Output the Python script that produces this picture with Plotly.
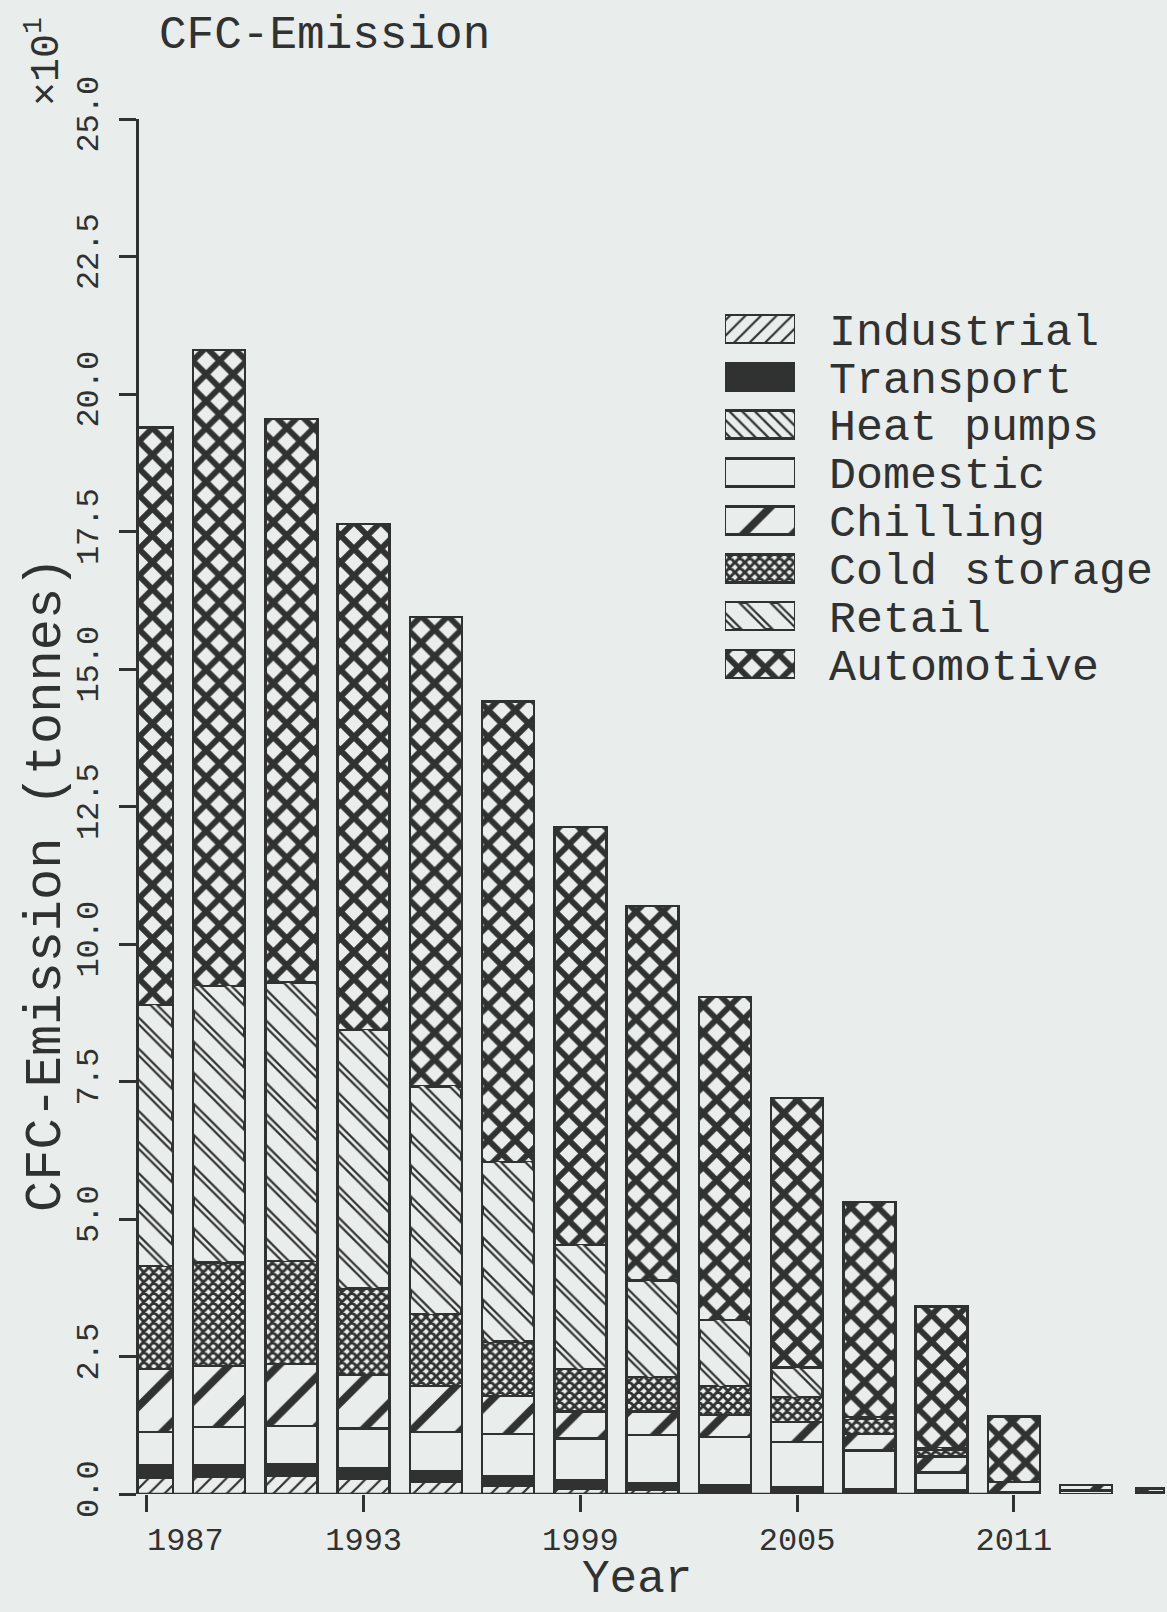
import plotly.graph_objects as go

# CFC emission by sector (x10^1 tonnes), stacked bottom to top
years = [1987, 1989, 1991, 1993, 1995, 1997, 1999, 2001, 2003, 2005, 2007, 2009, 2011, 2013, 2015]
industrial = [0.30, 0.31, 0.33, 0.27, 0.22, 0.15, 0.10, 0.07, 0.04, 0.02, 0.01, 0.01, 0, 0, 0]
transport = [0.20, 0.19, 0.19, 0.17, 0.17, 0.16, 0.14, 0.11, 0.11, 0.10, 0.06, 0.05, 0.01, 0, 0]
heat_pumps = [0.03, 0.03, 0.03, 0.03, 0.02, 0.02, 0.015, 0.01, 0.01, 0.01, 0.01, 0.01, 0, 0, 0]
domestic = [0.60, 0.69, 0.69, 0.72, 0.72, 0.76, 0.755, 0.88, 0.88, 0.82, 0.71, 0.32, 0.03, 0.06, 0.04]
chilling = [1.14, 1.11, 1.12, 0.97, 0.83, 0.69, 0.49, 0.43, 0.40, 0.36, 0.30, 0.29, 0.18, 0.10, 0.06]
cold_storage = [1.88, 1.88, 1.88, 1.58, 1.31, 0.99, 0.77, 0.63, 0.52, 0.45, 0.27, 0.13, 0, 0, 0]
retail = [4.74, 5.03, 5.06, 4.70, 4.14, 3.27, 2.26, 1.75, 1.20, 0.54, 0.03, 0.02, 0, 0, 0]
automotive = [10.50, 11.56, 10.25, 9.20, 8.54, 8.37, 7.60, 6.81, 5.88, 4.90, 3.92, 2.58, 1.19, 0, 0]

sector_names = ["Industrial", "Transport", "Heat pumps", "Domestic",
                "Chilling", "Cold storage", "Retail", "Automotive"]
sector_values = [industrial, transport, heat_pumps, domestic,
                 chilling, cold_storage, retail, automotive]

x_tick_years = [1987, 1993, 1999, 2005, 2011]
y_ticks = [0.0, 2.5, 5.0, 7.5, 10.0, 12.5, 15.0, 17.5, 20.0, 22.5, 25.0]

INK = "#303131"
PAPER = "#e9edeb"
CLEAR = "rgba(0,0,0,0)"
MONO = "Liberation Mono, DejaVu Sans Mono, monospace"
NBSP = "\u00a0"

# hatch style for each sector
styles = {
    "Industrial":   dict(shape="/", size=11, solidity=0.2),
    "Transport":    None,
    "Heat pumps":   dict(shape="\\", size=9, solidity=0.25),
    "Domestic":     dict(shape="", size=8, solidity=0.3),
    "Chilling":     dict(shape="/", size=35, solidity=0.22),
    "Cold storage": dict(shape="x", size=7, solidity=0.66),
    "Retail":       dict(shape="\\", size=22, solidity=0.32),
    "Automotive":   dict(shape="x", size=19, solidity=0.52),
}
# thin light stroke laid over the retail hatch, splitting each stripe in two
retail_split = dict(shape="\\", size=22, solidity=0.12, fgcolor=PAPER,
                    bgcolor=CLEAR, fillmode="replace")


def marker_for(name):
    st = styles[name]
    if st is None:
        return dict(color=INK, line=dict(color=INK, width=2.5))
    pat = dict(st, fgcolor=INK, bgcolor=PAPER, fillmode="replace")
    return dict(color=PAPER, pattern=pat, line=dict(color=INK, width=2.5))


W, H = 1167, 1612
ML, MR, MT, MB = 139, 0, 119, 118
PW, PH = W - ML - MR, H - MT - MB
X0, X1 = 1986.78, 2015.24


def px_x(X):
    return (X - ML) / PW


def px_y(Y):
    return (H - MB - Y) / PH


n = len(years)
bar_w = [1.44] * (n - 1) + [0.75]
bar_off = [-0.72] * (n - 1) + [-0.6]

fig = go.Figure()
for name, vals in zip(sector_names, sector_values):
    fig.add_trace(go.Bar(
        x=years, y=[v if v else None for v in vals], name=name,
        width=bar_w, offset=bar_off, marker=marker_for(name),
        showlegend=False, hoverinfo="x+y+name",
    ))
    # legend swatch drawn on its own small axis pair
    fig.add_trace(go.Bar(
        x=[1], y=[name], orientation="h", width=0.585,
        marker=marker_for(name), xaxis="x2", yaxis="y2",
        showlegend=False, hoverinfo="skip",
    ))

# split stripes for the retail segments and its swatch
retail_base = [sum(v[i] for v in sector_values[:6]) for i in range(n)]
fig.add_trace(go.Bar(
    x=years, y=[v if v else None for v in retail], base=retail_base,
    width=[w - 0.1 for w in bar_w], offset=[o + 0.05 for o in bar_off],
    marker=dict(color=CLEAR, line=dict(width=0), pattern=retail_split),
    xaxis="x3", yaxis="y3", showlegend=False, hoverinfo="skip",
))
fig.add_trace(go.Bar(
    x=[0.97], base=[0.015], y=["Retail"], orientation="h", width=0.5,
    marker=dict(color=CLEAR, line=dict(width=0), pattern=retail_split),
    xaxis="x4", yaxis="y4", showlegend=False, hoverinfo="skip",
))

leg_dom_x = [px_x(725), px_x(795)]
leg_dom_y = [px_y(688), px_y(305)]
leg_range = [len(sector_names) - 0.5, -0.5]

# the first year label sits to the right of its tick, clear of the y axis
x_tick_text = [(NBSP * 4 if i == 0 else "") + str(y) for i, y in enumerate(x_tick_years)]

fig.update_layout(
    width=W, height=H,
    margin=dict(l=ML, r=MR, t=MT, b=MB, pad=0),
    paper_bgcolor=PAPER, plot_bgcolor=PAPER,
    barmode="stack", showlegend=False,
    font=dict(family=MONO, color=INK),
    xaxis=dict(
        range=[X0, X1], showgrid=False, zeroline=False, showline=False,
        tickmode="array", tickvals=x_tick_years, ticktext=x_tick_text,
        ticks="outside", ticklen=17, tickwidth=2.5, tickcolor=INK,
        tickfont=dict(family=MONO, size=32, color=INK), ticklabelstandoff=0,
    ),
    yaxis=dict(
        range=[0, 25], showgrid=False, zeroline=False,
        showline=True, linecolor=INK, linewidth=2.5,
        tickmode="array", tickvals=y_ticks, ticktext=[f"{v:.1f}" for v in y_ticks],
        ticks="outside", ticklen=17, tickwidth=2.5, tickcolor=INK,
        tickangle=-90, tickfont=dict(family=MONO, size=32, color=INK),
        ticklabelstandoff=8,
    ),
    xaxis3=dict(range=[X0, X1], overlaying="x", anchor="y3", visible=False),
    yaxis3=dict(range=[0, 25], overlaying="y", anchor="x3", visible=False),
    xaxis2=dict(domain=leg_dom_x, range=[0, 1], anchor="y2",
                visible=False, fixedrange=True),
    yaxis2=dict(
        domain=leg_dom_y, anchor="x2", type="category",
        categoryorder="array", categoryarray=sector_names, range=leg_range,
        tickmode="array", tickvals=sector_names, ticktext=sector_names,
        side="right", showgrid=False, zeroline=False, showline=False, ticks="",
        tickfont=dict(family=MONO, size=45, color=INK), ticklabelstandoff=33,
        fixedrange=True,
    ),
    xaxis4=dict(range=[0, 1], overlaying="x2", anchor="y4", visible=False),
    yaxis4=dict(type="category", categoryorder="array", categoryarray=sector_names,
                range=leg_range, overlaying="y2", anchor="x4", visible=False),
)

# x axis baseline, ending at the last bar inside the axis
fig.add_shape(type="line", xref="x", yref="y", x0=X0, x1=2011.72, y0=0, y1=0,
              line=dict(color=INK, width=2.5), layer="above")

fig.add_annotation(text="CFC-Emission", xref="paper", yref="paper",
                   x=px_x(157), y=px_y(8), xanchor="left", yanchor="top",
                   showarrow=False, font=dict(family=MONO, size=46, color=INK))
fig.add_annotation(text="×10<sup>1</sup>", xref="paper", yref="paper",
                   x=px_x(44), y=px_y(62), xanchor="center", yanchor="middle",
                   textangle=-90, showarrow=False,
                   font=dict(family=MONO, size=40, color=INK))
fig.add_annotation(text="CFC-Emission (tonnes)", xref="paper", yref="paper",
                   x=px_x(46), y=px_y(885), xanchor="center", yanchor="middle",
                   textangle=-90, showarrow=False,
                   font=dict(family=MONO, size=52, color=INK))
fig.add_annotation(text="Year", xref="paper", yref="paper",
                   x=px_x(637), y=px_y(1580), xanchor="center", yanchor="middle",
                   showarrow=False, font=dict(family=MONO, size=46, color=INK))

fig.write_html("out.html")
